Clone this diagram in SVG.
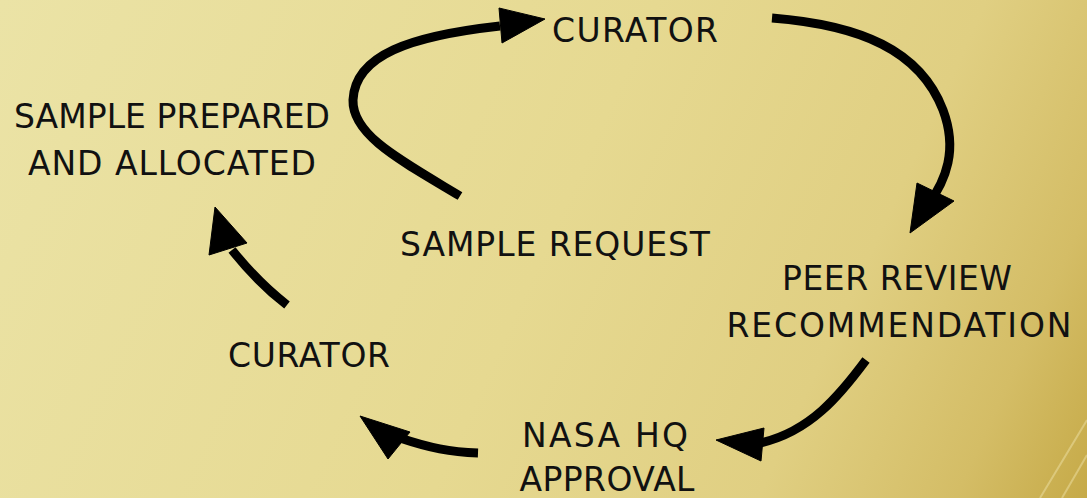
<svg xmlns="http://www.w3.org/2000/svg" width="1087" height="498" viewBox="0 0 1087 498">
  <defs>
    <linearGradient id="bg" gradientUnits="userSpaceOnUse" x1="0" y1="0" x2="1087" y2="498">
      <stop offset="0" stop-color="#ebe3a6"/>
      <stop offset="0.5" stop-color="#e6d991"/>
      <stop offset="0.75" stop-color="#e0cf82"/>
      <stop offset="0.9" stop-color="#d4bd66"/>
      <stop offset="1" stop-color="#c6aa48"/>
    </linearGradient>
    <style>
      .lbl { font-family: "DejaVu Sans", sans-serif; font-size: 33px; fill: #111; text-anchor: middle; }
      .wire { fill: none; stroke: #000; stroke-width: 9; stroke-linecap: butt; }
      .head { fill: #000; stroke: #000; stroke-width: 1; stroke-linejoin: miter; }
    </style>
  </defs>

  <rect width="1087" height="498" fill="url(#bg)"/>
  <!-- faint sheen streaks, lower right corner -->
  <g stroke="#f2e6b0" stroke-opacity="0.45" stroke-width="2" fill="none">
    <path d="M 1087,420 L 1040,498"/>
    <path d="M 1087,455 L 1062,498"/>
  </g>

  <g id="connectors">
    <!-- sample request -> curator -->
    <path class="wire" d="M 460,196 C 400,160 352,135 353,100 C 355,55 410,36 500,26"/>
    <polygon class="head" points="499,8 502,43 545,19"/>
    <!-- curator -> peer review -->
    <path class="wire" d="M 772,18 C 860,25 920,50 943,110 C 958,150 946,180 928,205"/>
    <polygon class="head" points="917,183 954,201 910,233"/>
    <!-- peer review -> NASA HQ -->
    <path class="wire" d="M 866,360 C 840,395 810,432 760,443"/>
    <polygon class="head" points="764,428 761,461 716,440"/>
    <!-- NASA HQ -> curator -->
    <path class="wire" d="M 478,453 C 450,452 430,448 400,438"/>
    <polygon class="head" points="410,432 388,459 360,416"/>
    <!-- curator -> sample prepared -->
    <path class="wire" d="M 287,305 C 265,288 248,270 232,250"/>
    <polygon class="head" points="209,255 247,243 215,207"/>
  </g>

  <g id="curator-top">
    <text class="lbl" x="635" y="42" textLength="166">CURATOR</text>
  </g>
  <g id="sample-prepared">
    <text class="lbl" x="172" y="128" textLength="316">SAMPLE PREPARED</text>
    <text class="lbl" x="172" y="175" textLength="288">AND ALLOCATED</text>
  </g>
  <g id="sample-request">
    <text class="lbl" x="555" y="256" textLength="310">SAMPLE REQUEST</text>
  </g>
  <g id="peer-review">
    <text class="lbl" x="897" y="290" textLength="230">PEER REVIEW</text>
    <text class="lbl" x="899" y="337" textLength="345">RECOMMENDATION</text>
  </g>
  <g id="curator-bottom">
    <text class="lbl" x="309" y="367" textLength="162">CURATOR</text>
  </g>
  <g id="nasa-hq">
    <text class="lbl" x="605" y="447" textLength="166">NASA HQ</text>
    <text class="lbl" x="607" y="491" textLength="175">APPROVAL</text>
  </g>
</svg>
